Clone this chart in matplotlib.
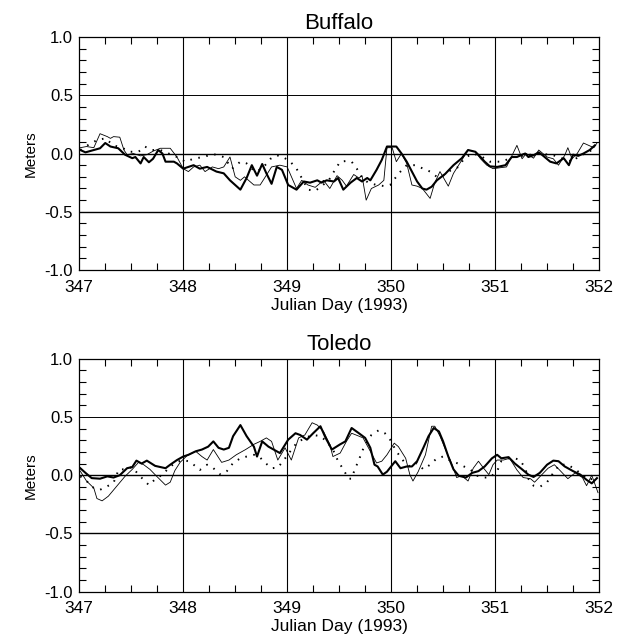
import matplotlib

matplotlib.use("Agg")
import matplotlib.pyplot as plt
from matplotlib.ticker import MultipleLocator, NullFormatter

plt.rcParams["font.family"] = ["Liberation Sans", "DejaVu Sans"]

# Buffalo: thick solid, thin solid, dotted (day, metres)
buf_thick_t = [347.01, 347.06, 347.14, 347.20, 347.25, 347.30, 347.375, 347.44, 347.51, 347.54,
               347.59, 347.62, 347.67, 347.71, 347.76, 347.80, 347.83, 347.91, 347.94, 348.0,
               348.05, 348.10, 348.16, 348.23, 348.32, 348.39, 348.45, 348.55, 348.61, 348.66,
               348.71, 348.76, 348.80, 348.85, 348.90, 348.95, 349.01, 349.09, 349.16, 349.22,
               349.29, 349.33, 349.38, 349.45, 349.49, 349.54, 349.61, 349.67, 349.72, 349.77,
               349.80, 349.86, 349.91, 349.96, 350.05, 350.10, 350.15, 350.20, 350.25, 350.30,
               350.34, 350.39, 350.44, 350.52, 350.60, 350.68, 350.74, 350.81, 350.86, 350.90,
               350.95, 351.02, 351.10, 351.16, 351.21, 351.26, 351.29, 351.32, 351.37, 351.42,
               351.45, 351.53, 351.59, 351.66, 351.71, 351.75, 351.80, 351.85, 351.91, 351.96]
buf_thick = [0.03, 0.01, 0.03, 0.045, 0.09, 0.06, 0.045, -0.01, -0.04, -0.03,
             -0.085, -0.03, -0.075, -0.045, 0.03, 0.0, -0.07, -0.07, -0.085, -0.13,
             -0.115, -0.10, -0.13, -0.115, -0.155, -0.17, -0.23, -0.31, -0.21, -0.10,
             -0.19, -0.09, -0.17, -0.26, -0.115, -0.14, -0.27, -0.31, -0.24, -0.25,
             -0.23, -0.25, -0.23, -0.24, -0.21, -0.31, -0.25, -0.21, -0.24, -0.21,
             -0.23, -0.14, -0.055, 0.06, 0.06, 0.0, -0.07, -0.155, -0.24, -0.30,
             -0.31, -0.285, -0.23, -0.175, -0.10, -0.04, 0.03, 0.015, -0.03, -0.07,
             -0.11, -0.115, -0.10, -0.03, -0.03, -0.01, 0.0, -0.03, -0.015, 0.01,
             -0.01, -0.07, -0.085, -0.04, -0.10, -0.01, -0.02, 0.0, 0.03, 0.07]

buf_thin_t = [347.01, 347.07, 347.14, 347.20, 347.27, 347.30, 347.33, 347.39, 347.43, 347.46,
              347.52, 347.59, 347.65, 347.71, 347.78, 347.875, 347.94, 348.0, 348.05, 348.10,
              348.16, 348.21, 348.28, 348.34, 348.39, 348.45, 348.50, 348.55, 348.59, 348.68,
              348.74, 348.79, 348.85, 348.93, 349.0, 349.09, 349.14, 349.20, 349.27, 349.35,
              349.41, 349.48, 349.53, 349.57, 349.64, 349.69, 349.72, 349.76, 349.81, 349.88,
              349.93, 349.96, 350.01, 350.05, 350.10, 350.15, 350.20, 350.25, 350.30, 350.375,
              350.42, 350.47, 350.55, 350.60, 350.66, 350.74, 350.81, 350.86, 350.92, 350.98,
              351.11, 351.21, 351.26, 351.30, 351.37, 351.42, 351.50, 351.56, 351.61, 351.67,
              351.70, 351.74, 351.79, 351.85, 351.90, 351.95, 351.98]
buf_thin = [0.05, 0.06, 0.05, 0.17, 0.145, 0.13, 0.145, 0.14, 0.03, -0.01,
            0.0, -0.02, -0.01, 0.02, 0.045, 0.045, -0.03, -0.13, -0.155, -0.115,
            -0.10, -0.155, -0.115, -0.13, -0.115, -0.03, -0.20, -0.23, -0.20, -0.27,
            -0.27, -0.20, -0.115, -0.10, -0.115, -0.30, -0.23, -0.27, -0.29, -0.23,
            -0.30, -0.19, -0.23, -0.28, -0.18, -0.21, -0.19, -0.40, -0.30, -0.27,
            -0.23, 0.05, 0.05, -0.07, 0.0, -0.085, -0.27, -0.28, -0.30, -0.385,
            -0.25, -0.155, -0.28, -0.17, -0.085, 0.03, 0.015, -0.045, -0.10, -0.13,
            -0.115, 0.07, -0.045, 0.0, -0.04, 0.03, -0.03, -0.045, -0.10, -0.015,
            0.05, -0.045, 0.0, 0.09, 0.07, 0.05, 0.09]

buf_dot_t = [347.01, 347.06, 347.17, 347.25, 347.33, 347.41, 347.49, 347.57, 347.63, 347.70,
             347.78, 347.86, 347.94, 348.02, 348.10, 348.19, 348.29, 348.39, 348.47, 348.55,
             348.61, 348.69, 348.76, 348.84, 348.90, 348.96, 349.03, 349.09, 349.14, 349.20,
             349.27, 349.33, 349.40, 349.46, 349.51, 349.56, 349.62, 349.67, 349.72, 349.78,
             349.86, 349.94, 349.99, 350.04, 350.09, 350.15, 350.23, 350.31, 350.375, 350.44,
             350.50, 350.58, 350.65, 350.70, 350.78, 350.86, 350.95, 351.06, 351.18, 351.30,
             351.43, 351.56, 351.69, 351.75, 351.81, 351.88, 351.96]
buf_dot = [0.03, 0.06, 0.115, 0.13, 0.07, 0.05, 0.015, 0.015, 0.06, 0.03,
           0.03, 0.0, -0.03, -0.07, -0.045, -0.03, -0.005, -0.03, -0.13, -0.07,
           -0.085, -0.155, -0.13, -0.045, -0.015, -0.03, -0.07, -0.13, -0.21, -0.31,
           -0.32, -0.28, -0.23, -0.14, -0.07, -0.065, -0.07, -0.13, -0.21, -0.25,
           -0.27, -0.28, -0.27, -0.21, -0.155, -0.10, -0.10, -0.13, -0.155, -0.20,
           -0.19, -0.14, -0.115, -0.045, 0.0, -0.02, -0.07, -0.07, -0.03, -0.015,
           0.0, -0.015, -0.055, -0.07, -0.015, 0.0, 0.05]

# Toledo
tol_thick_t = [347.01, 347.06, 347.12, 347.20, 347.27, 347.33, 347.39, 347.46, 347.51, 347.55,
               347.60, 347.65, 347.73, 347.78, 347.83, 347.875, 347.94, 348.0, 348.05, 348.12,
               348.18, 348.24, 348.29, 348.34, 348.39, 348.44, 348.48, 348.55, 348.61, 348.68,
               348.71, 348.76, 348.82, 348.87, 348.93, 349.01, 349.08, 349.125, 349.19, 349.25,
               349.32, 349.37, 349.43, 349.51, 349.56, 349.62, 349.69, 349.75, 349.80, 349.84,
               349.87, 349.92, 349.96, 350.04, 350.09, 350.15, 350.20, 350.25, 350.31, 350.36,
               350.41, 350.46, 350.50, 350.55, 350.60, 350.65, 350.72, 350.78, 350.84, 350.90,
               350.97, 351.02, 351.06, 351.13, 351.19, 351.26, 351.32, 351.37, 351.43, 351.50,
               351.56, 351.61, 351.67, 351.75, 351.82, 351.88, 351.93, 351.98]
tol_thick = [0.06, 0.02, -0.025, -0.03, -0.01, -0.02, 0.0, 0.06, 0.07, 0.125,
             0.10, 0.125, 0.08, 0.07, 0.06, 0.09, 0.13, 0.16, 0.175, 0.205,
             0.22, 0.245, 0.29, 0.235, 0.22, 0.235, 0.335, 0.43, 0.335, 0.245,
             0.16, 0.29, 0.245, 0.22, 0.19, 0.305, 0.36, 0.345, 0.305, 0.36,
             0.42, 0.32, 0.22, 0.265, 0.29, 0.405, 0.36, 0.32, 0.235, 0.09,
             0.075, 0.005, 0.03, 0.12, 0.06, 0.075, 0.075, 0.12, 0.235, 0.335,
             0.405, 0.375, 0.29, 0.16, 0.05, -0.005, -0.02, 0.02, 0.035, 0.075,
             0.145, 0.175, 0.145, 0.155, 0.10, 0.05, 0.005, -0.015, 0.02, 0.09,
             0.125, 0.12, 0.075, 0.035, 0.005, -0.04, -0.07, -0.025]

tol_thin_t = [347.01, 347.07, 347.14, 347.17, 347.22, 347.28, 347.36, 347.44, 347.51, 347.57,
              347.62, 347.68, 347.74, 347.83, 347.875, 347.92, 347.97, 348.04, 348.12, 348.18,
              348.23, 348.29, 348.37, 348.44, 348.51, 348.60, 348.68, 348.74, 348.80, 348.85,
              348.91, 348.98, 349.04, 349.11, 349.17, 349.24, 349.29, 349.35, 349.41, 349.44,
              349.51, 349.57, 349.62, 349.69, 349.73, 349.80, 349.86, 349.91, 349.96, 350.03,
              350.07, 350.14, 350.18, 350.21, 350.26, 350.33, 350.39, 350.42, 350.47, 350.53,
              350.58, 350.63, 350.68, 350.74, 350.79, 350.84, 350.89, 350.94, 350.98, 351.02,
              351.08, 351.14, 351.21, 351.27, 351.34, 351.38, 351.45, 351.51, 351.57, 351.62,
              351.70, 351.77, 351.84, 351.88, 351.93, 351.99]
tol_thin = [0.035, -0.05, -0.11, -0.20, -0.22, -0.18, -0.095, -0.01, 0.05, 0.11,
            0.09, 0.05, -0.005, -0.085, -0.06, 0.04, 0.11, 0.17, 0.205, 0.16,
            0.13, 0.22, 0.11, 0.13, 0.175, 0.22, 0.265, 0.29, 0.32, 0.29,
            0.13, 0.235, 0.13, 0.32, 0.345, 0.45, 0.43, 0.375, 0.265, 0.16,
            0.19, 0.29, 0.36, 0.335, 0.32, 0.205, 0.105, 0.12, 0.175, 0.275,
            0.245, 0.145, 0.005, -0.05, 0.03, 0.175, 0.42, 0.42, 0.335, 0.205,
            0.105, -0.02, -0.005, -0.05, 0.06, 0.12, 0.06, 0.005, 0.09, 0.13,
            0.13, 0.145, 0.045, -0.02, -0.03, -0.06, 0.005, 0.06, 0.09, 0.045,
            -0.03, 0.02, -0.02, -0.09, 0.0, -0.15]

tol_dot_t = [347.01, 347.07, 347.14, 347.20, 347.27, 347.33, 347.38, 347.44, 347.51, 347.57,
             347.62, 347.67, 347.73, 347.80, 347.86, 347.92, 347.99, 348.05, 348.10, 348.16,
             348.23, 348.29, 348.36, 348.42, 348.48, 348.55, 348.61, 348.68, 348.73, 348.79,
             348.85, 348.91, 348.96, 349.03, 349.09, 349.17, 349.25, 349.32, 349.38, 349.44,
             349.49, 349.54, 349.59, 349.62, 349.65, 349.69, 349.72, 349.77, 349.81, 349.88,
             349.94, 349.99, 350.05, 350.12, 350.18, 350.25, 350.31, 350.375, 350.44, 350.50,
             350.56, 350.63, 350.70, 350.76, 350.83, 350.89, 350.95, 351.02, 351.06, 351.13,
             351.19, 351.24, 351.29, 351.32, 351.37, 351.43, 351.50, 351.56, 351.62, 351.70,
             351.77, 351.84, 351.90, 351.96]
tol_dot = [-0.01, -0.05, -0.11, -0.125, -0.095, -0.065, 0.05, 0.05, 0.07, 0.005,
           -0.04, -0.085, -0.035, 0.005, 0.06, 0.105, 0.13, 0.12, 0.09, 0.045,
           0.09, 0.06, 0.005, 0.035, 0.105, 0.145, 0.16, 0.175, 0.16, 0.105,
           0.06, 0.065, 0.12, 0.205, 0.275, 0.32, 0.345, 0.335, 0.29, 0.22,
           0.12, 0.05, -0.03, -0.03, 0.05, 0.13, 0.205, 0.29, 0.345, 0.385,
           0.36, 0.305, 0.205, 0.12, 0.075, 0.105, 0.05, 0.09, 0.145, 0.16,
           0.13, 0.105, 0.075, 0.05, -0.005, -0.02, -0.02, 0.035, 0.12, 0.145,
           0.145, 0.13, 0.06, -0.03, -0.09, -0.10, -0.06, 0.02, 0.09, 0.09,
           0.05, 0.005, -0.04, -0.025]

panels = [
    ("Buffalo", buf_thick_t, buf_thick, buf_thin_t, buf_thin, buf_dot_t, buf_dot),
    ("Toledo", tol_thick_t, tol_thick, tol_thin_t, tol_thin, tol_dot_t, tol_dot),
]
day_ticks = [347, 348, 349, 350, 351, 352]
level_ticks = [-1.0, -0.5, 0.0, 0.5, 1.0]

fig = plt.figure(figsize=(6.24, 6.37), dpi=100)
boxes = [[0.127, 0.576, 0.833, 0.366], [0.127, 0.071, 0.833, 0.366]]

for box, (name, t1, v1, t2, v2, t3, v3) in zip(boxes, panels):
    ax = fig.add_axes(box)
    ax.set_xlim(347, 352)
    ax.set_ylim(-1.0, 1.0)

    # IDL-style full-length major ticks
    for d in day_ticks[1:-1]:
        ax.axvline(d, color="black", lw=0.8, zorder=1)
    for lv in level_ticks[1:-1]:
        ax.axhline(lv, color="black", lw=1.0 if lv != 0.5 else 0.7, zorder=1)

    ax.plot(t2, v2, color="black", lw=0.6, zorder=3)
    ax.plot(t3, v3, color="black", lw=1.4, linestyle=(0, (0.8, 3.4)), zorder=3)
    ax.plot(t1, v1, color="black", lw=1.5, zorder=4)

    ax.set_xticks(day_ticks)
    ax.set_yticks(level_ticks)
    ax.set_yticklabels(["-1.0", "-0.5", "0.0", "0.5", "1.0"])
    ax.xaxis.set_minor_locator(MultipleLocator(0.25))
    ax.yaxis.set_minor_locator(MultipleLocator(0.1))
    ax.tick_params(which="major", length=0)
    ax.tick_params(axis="x", which="major", labelsize=12.5, pad=7)
    ax.tick_params(axis="y", which="major", labelsize=12, pad=4.5)
    ax.tick_params(which="minor", direction="in", length=5, width=0.8,
                   top=True, right=True)
    ax.xaxis.set_minor_formatter(NullFormatter())
    for s in ax.spines.values():
        s.set_linewidth(0.9)

    ax.set_title(name, fontsize=16, pad=6)
    ax.set_xlabel("Julian Day (1993)", fontsize=12.5, labelpad=2)
    ax.set_ylabel("Meters", fontsize=11, labelpad=5)

fig.savefig("out.png", dpi=100)
plt.close(fig)
